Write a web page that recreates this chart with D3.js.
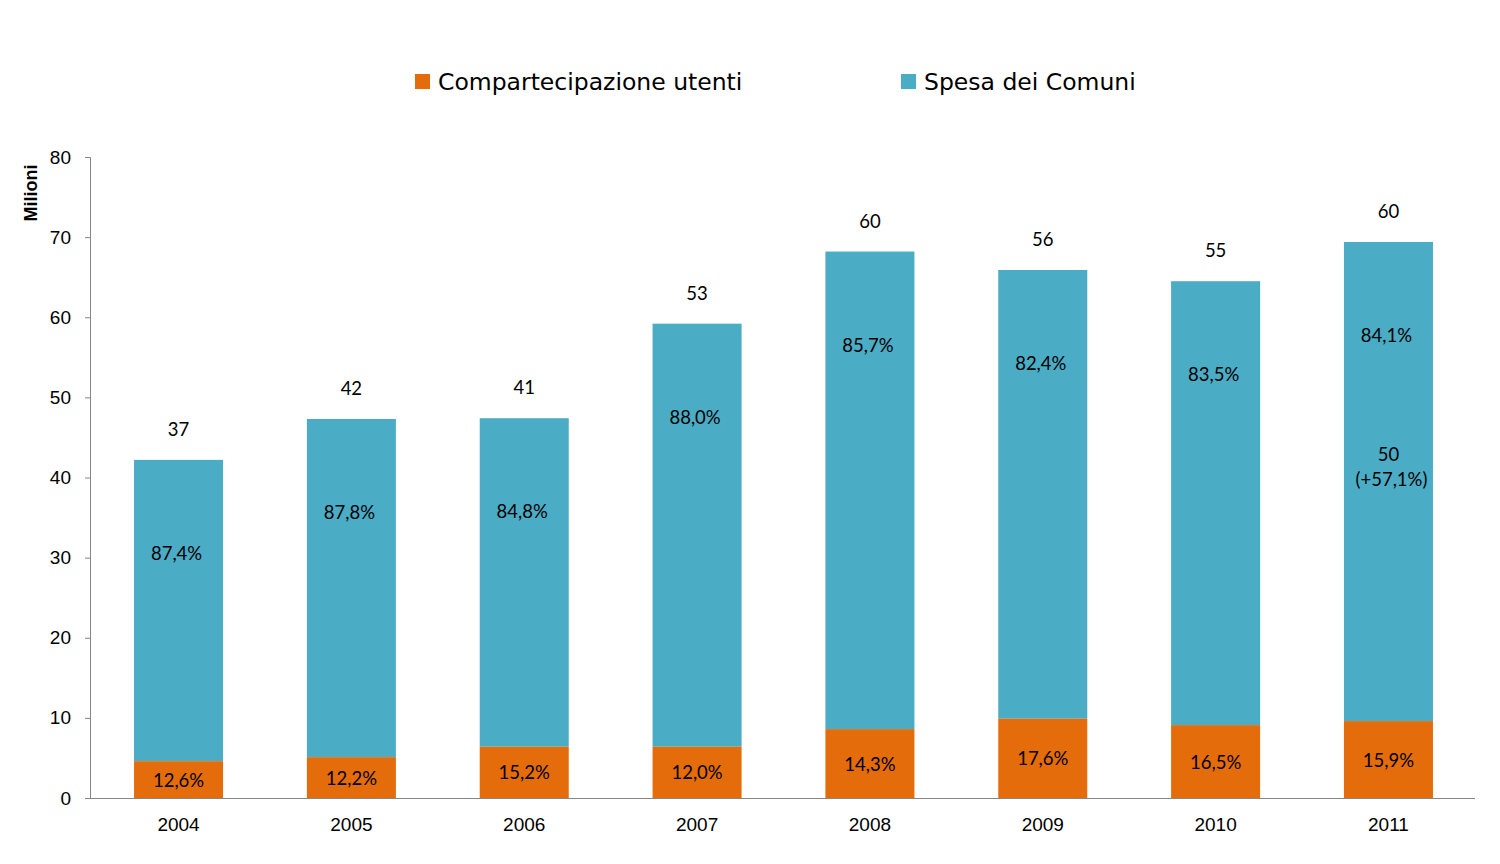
<!DOCTYPE html>
<html><head><meta charset="utf-8">
<script src="https://cdn.jsdelivr.net/npm/d3@7"></script>
<style>body{margin:0;background:#fff}</style>
</head><body>
<svg id="c" width="1500" height="864"></svg>
<script>
const years = ["2004","2005","2006","2007","2008","2009","2010","2011"];
const comp = [4.6, 5.1, 6.4, 6.4, 8.6, 9.9, 9.1, 9.6];
const spesa = [37.6, 42.2, 41.0, 52.8, 59.6, 56.0, 55.4, 59.8];
const totLabels = ["37","42","41","53","60","56","55","60"];
const spesaPct = ["87,4%","87,8%","84,8%","88,0%","85,7%","82,4%","83,5%","84,1%"];
const compPct = ["12,6%","12,2%","15,2%","12,0%","14,3%","17,6%","16,5%","15,9%"];
const extraLabel = {year:"2011", lines:["50","(+57,1%)"], value:42};
const yTicks = [0,10,20,30,40,50,60,70,80];
const seriesNames = ["Compartecipazione utenti","Spesa dei Comuni"];
const colors = ["#E46C0A","#4BACC6"];

const svg = d3.select("#c");
const x = d3.scaleBand().domain(years).range([91,1476]).paddingInner(0.485).paddingOuter(0.249);
const y = d3.scaleLinear().domain([0,80]).range([798,157]);

// y axis
const ya = svg.append("g").attr("transform","translate(90,0)")
  .call(d3.axisLeft(y).tickValues(yTicks).tickSize(5).tickPadding(14).tickFormat(d3.format("d")));
ya.select(".domain").attr("stroke","#868686").attr("d","M-5,157.5H0.5V798.5");
ya.selectAll(".tick line").attr("stroke","#868686");
ya.selectAll(".tick text").attr("font-family","Liberation Sans, Arial, sans-serif").attr("font-size",19).attr("fill","#000");

// bars
const stack = years.map((yr,i)=>({yr, c:comp[i], s:spesa[i]}));
svg.append("g").selectAll("rect.s").data(stack).join("rect")
  .attr("x",d=>x(d.yr)).attr("width",x.bandwidth())
  .attr("y",d=>y(d.c+d.s)).attr("height",d=>y(d.c)-y(d.c+d.s)).attr("fill",colors[1]);
svg.append("g").selectAll("rect.c").data(stack).join("rect")
  .attr("x",d=>x(d.yr)).attr("width",x.bandwidth())
  .attr("y",d=>y(d.c)).attr("height",d=>y(0)-y(d.c)).attr("fill",colors[0]);

// x axis
const xa = svg.append("g").attr("transform","translate(0,798)")
  .call(d3.axisBottom(x).tickSize(0).tickPadding(20));
xa.select(".domain").attr("stroke","#868686").attr("d","M90,0.5H1475");
xa.selectAll(".tick text").attr("font-family","Liberation Sans, Arial, sans-serif").attr("font-size",19).attr("fill","#000");

const lblFont = "Lato, Carlito, Calibri, sans-serif";
const g = svg.append("g").attr("font-family",lblFont).attr("font-size",18.5).attr("fill","#000").attr("text-anchor","middle");
g.selectAll("text.t").data(stack).join("text")
  .attr("x",d=>x(d.yr)+x.bandwidth()/2).attr("y",d=>y(d.c+d.s)-24).text((d,i)=>totLabels[i]);
g.selectAll("text.sp").data(stack).join("text")
  .attr("x",d=>x(d.yr)+x.bandwidth()/2-2).attr("y",d=>y(d.c+d.s)+100).text((d,i)=>spesaPct[i]);
g.selectAll("text.cp").data(stack).join("text")
  .attr("x",d=>x(d.yr)+x.bandwidth()/2).attr("y",d=>(y(d.c)+y(0))/2+7).text((d,i)=>compPct[i]);
const ex = g.append("text").attr("x",x(extraLabel.year)+x.bandwidth()/2).attr("y",y(extraLabel.value));
extraLabel.lines.forEach((l,i)=>ex.append("tspan").attr("x",x(extraLabel.year)+x.bandwidth()/2+3*i).attr("dy",i?25:0).text(l));

// y title
svg.append("text").attr("transform","translate(37,193) rotate(-90)").attr("text-anchor","middle")
  .attr("font-family","Liberation Sans, Arial, sans-serif").attr("font-weight","bold").attr("font-size",18).text("Milioni");

// legend
const legX = [415, 901];
const lg = svg.append("g");
seriesNames.forEach((n,i)=>{
  lg.append("rect").attr("x",legX[i]).attr("y",74).attr("width",15).attr("height",15).attr("fill",colors[i]);
  lg.append("text").attr("x",legX[i]+23).attr("y",90).attr("font-family","DejaVu Sans, sans-serif").attr("font-size",23.5).text(n);
});
</script>
</body></html>
